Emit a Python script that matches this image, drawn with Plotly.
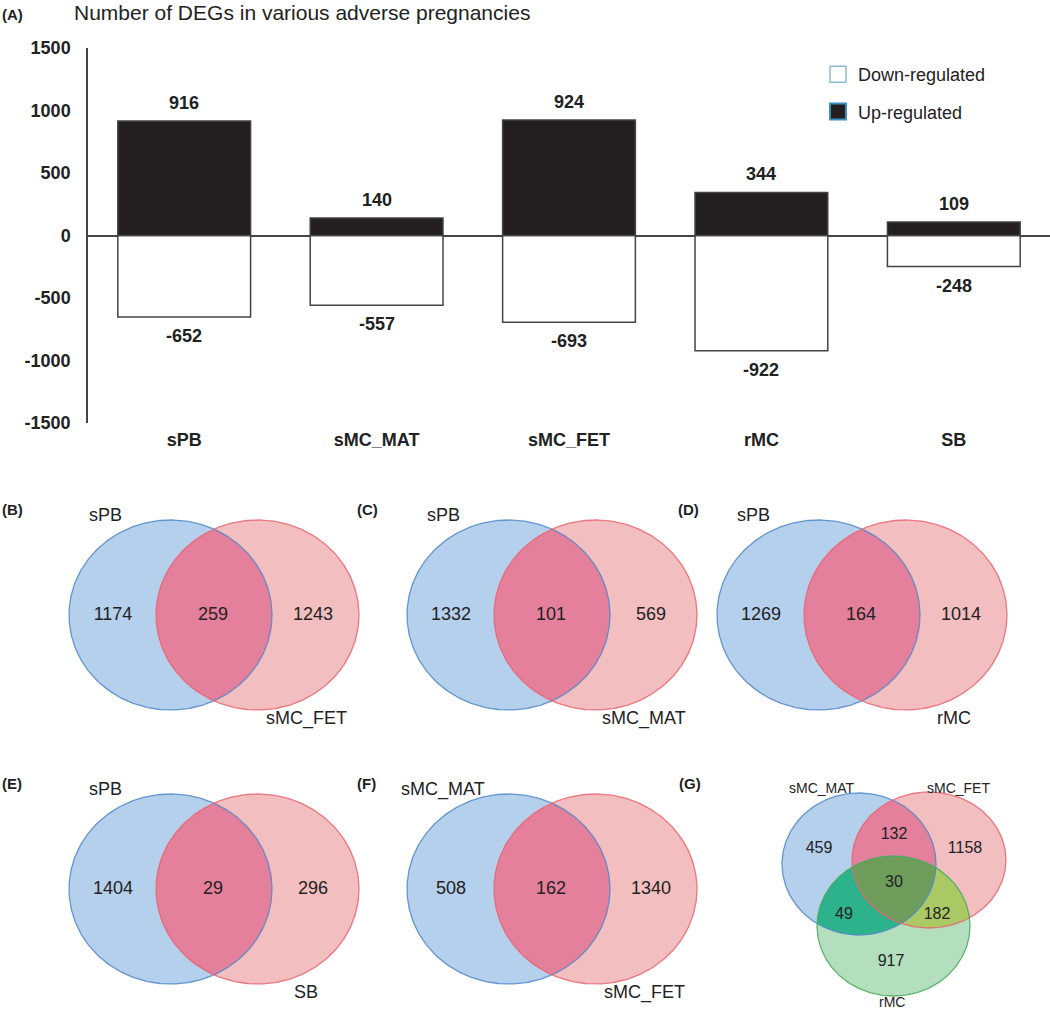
import numpy as np
import plotly.graph_objects as go

# ---- data ----
categories = ["sPB", "sMC_MAT", "sMC_FET", "rMC", "SB"]
up_regulated = [916, 140, 924, 344, 109]
down_regulated = [-652, -557, -693, -922, -248]
y_ticks = [-1500, -1000, -500, 0, 500, 1000, 1500]

venn_panels = ["(B)", "(C)", "(D)", "(E)", "(F)"]
venn_left_sets = ["sPB", "sPB", "sPB", "sPB", "sMC_MAT"]
venn_right_sets = ["sMC_FET", "sMC_MAT", "rMC", "SB", "sMC_FET"]
venn_left_only = [1174, 1332, 1269, 1404, 508]
venn_shared = [259, 101, 164, 29, 162]
venn_right_only = [1243, 569, 1014, 296, 1340]

g_panel = "(G)"
g_sets = ["sMC_MAT", "sMC_FET", "rMC"]
g_only = [459, 1158, 917]          # MAT only, FET only, rMC only
g_pairs = [132, 49, 182]           # MAT&FET, MAT&rMC, FET&rMC
g_all = 30

# ---- layout constants (pixels) ----
W, H = 1050, 1011
FONT = "Arial, Liberation Sans, sans-serif"
TXT = "#222222"
BLUE_FILL, BLUE_LINE = "#b4d0ec", "rgba(80,135,200,0.85)"
PINK_FILL, PINK_LINE = "#f2bebf", "rgba(232,100,112,0.85)"
GREEN_FILL, GREEN_LINE = "#b4dfbe", "rgba(70,170,90,0.85)"
BP_FILL, BG_FILL, PG_FILL, ALL_FILL = "#e47f9c", "#2db38c", "#aac864", "#6e9c5a"

panel_offsets = [(0, 0), (338, 0), (648, 0), (0, 274), (338, 274)]
panel_label_x = [0, 355, 676, 0, 355]


def px_x(x):
    return x / W


def px_y(y):
    return 1 - y / H


def ellipse(cx, cy, rx, ry, n=360):
    t = np.linspace(0, 2 * np.pi, n, endpoint=False)
    return list(zip(cx + rx * np.cos(t), cy + ry * np.sin(t)))


def area_sign(poly):
    s = 0.0
    for i in range(len(poly)):
        x1, y1 = poly[i]
        x2, y2 = poly[(i + 1) % len(poly)]
        s += x1 * y2 - x2 * y1
    return 1 if s > 0 else -1


def clip(subject, clipper):
    # Sutherland-Hodgman, clipper is convex
    sgn = area_sign(clipper)

    def inside(p, a, b):
        return sgn * ((b[0] - a[0]) * (p[1] - a[1]) - (b[1] - a[1]) * (p[0] - a[0])) >= 0

    def inter(p, q, a, b):
        x1, y1 = p
        x2, y2 = q
        x3, y3 = a
        x4, y4 = b
        d = (x1 - x2) * (y3 - y4) - (y1 - y2) * (x3 - x4)
        t = ((x1 - x3) * (y3 - y4) - (y1 - y3) * (x3 - x4)) / d
        return (x1 + t * (x2 - x1), y1 + t * (y2 - y1))

    out = subject
    for i in range(len(clipper)):
        a, b = clipper[i], clipper[(i + 1) % len(clipper)]
        inp, out = out, []
        if not inp:
            break
        prev = inp[-1]
        for cur in inp:
            if inside(cur, a, b):
                if not inside(prev, a, b):
                    out.append(inter(prev, cur, a, b))
                out.append(cur)
            elif inside(prev, a, b):
                out.append(inter(prev, cur, a, b))
            prev = cur
    return out


def poly_trace(poly, fill=None, line=None, width=1.3):
    xs = [p[0] for p in poly] + [poly[0][0]]
    ys = [p[1] for p in poly] + [poly[0][1]]
    if fill:
        return go.Scatter(x=xs, y=ys, mode="lines", fill="toself", fillcolor=fill,
                          line=dict(width=0), hoverinfo="skip", showlegend=False,
                          xaxis="x2", yaxis="y2")
    return go.Scatter(x=xs, y=ys, mode="lines", line=dict(color=line, width=width),
                      hoverinfo="skip", showlegend=False, xaxis="x2", yaxis="y2")


fig = go.Figure()

# ---- (A) bar chart ----
fig.add_trace(go.Bar(x=categories, y=down_regulated, name="Down-regulated", width=0.69,
                     marker=dict(color="white", line=dict(color="#444444", width=1.5)),
                     showlegend=False))
fig.add_trace(go.Bar(x=categories, y=up_regulated, name="Up-regulated", width=0.69,
                     marker=dict(color="#231f20", line=dict(color="#444444", width=1.5)),
                     showlegend=False))

# legend entries
fig.add_trace(go.Scatter(x=[None], y=[None], mode="markers", name="Down-regulated",
                         legendgroup="d",
                         marker=dict(symbol="square", size=20, color="white",
                                     line=dict(color="#8bbbd8", width=1.5))))
fig.add_trace(go.Scatter(x=[None], y=[None], mode="markers", name="Up-regulated",
                         legendgroup="u",
                         marker=dict(symbol="square", size=18, color="#231f20",
                                     line=dict(color="#3a8fc0", width=2))))

annotations = []
for c, u, d in zip(categories, up_regulated, down_regulated):
    annotations.append(dict(x=c, y=u, xref="x", yref="y", text=str(u), showarrow=False,
                            yshift=18, font=dict(family=FONT, size=18, color=TXT, weight="bold")))
    annotations.append(dict(x=c, y=d, xref="x", yref="y", text=str(d), showarrow=False,
                            yshift=-19, font=dict(family=FONT, size=18, color=TXT, weight="bold")))

annotations.append(dict(x=px_x(0), y=px_y(15), xref="paper", yref="paper", xanchor="left",
                        yanchor="middle", text="(A)", showarrow=False,
                        font=dict(family=FONT, size=15, color=TXT, weight="bold")))
annotations.append(dict(x=px_x(72), y=px_y(13), xref="paper", yref="paper", xanchor="left",
                        yanchor="middle", text="Number of DEGs in various adverse pregnancies",
                        showarrow=False, font=dict(family=FONT, size=21, color=TXT)))

# ---- two-set Venn panels ----
for i in range(len(venn_panels)):
    ox, oy = panel_offsets[i]
    cy = 615 + oy
    blue = ellipse(170.5 + ox, cy, 101.5, 95)
    pink = ellipse(257.5 + ox, cy, 101.5, 95)
    lens = clip(blue, pink)
    fig.add_trace(poly_trace(blue, fill=BLUE_FILL))
    fig.add_trace(poly_trace(pink, fill=PINK_FILL))
    fig.add_trace(poly_trace(lens, fill=BP_FILL))
    fig.add_trace(poly_trace(blue, line=BLUE_LINE))
    fig.add_trace(poly_trace(pink, line=PINK_LINE))
    fig.add_trace(go.Scatter(
        x=[113 + ox, 213 + ox, 313 + ox], y=[cy, cy, cy], mode="text",
        text=[str(venn_left_only[i]), str(venn_shared[i]), str(venn_right_only[i])],
        textfont=dict(family=FONT, size=18, color=TXT), hoverinfo="skip",
        showlegend=False, xaxis="x2", yaxis="y2"))
    annotations.append(dict(x=105 + ox, y=cy - 100, xref="x2", yref="y2", text=venn_left_sets[i],
                            showarrow=False, font=dict(family=FONT, size=18, color=TXT)))
    annotations.append(dict(x=306 + ox, y=cy + 103, xref="x2", yref="y2", text=venn_right_sets[i],
                            showarrow=False, font=dict(family=FONT, size=18, color=TXT)))
    annotations.append(dict(x=panel_label_x[i], y=cy - 106, xref="x2", yref="y2", xanchor="left",
                            text=venn_panels[i], showarrow=False,
                            font=dict(family=FONT, size=15, color=TXT, weight="bold")))

# ---- (G) three-set Venn ----
gb = ellipse(859, 864, 77, 71)
gp = ellipse(929, 860, 77, 68)
gg = ellipse(893.5, 926, 76.5, 70)
for poly, col in [(gb, BLUE_FILL), (gp, PINK_FILL), (gg, GREEN_FILL),
                  (clip(gb, gp), BP_FILL), (clip(gb, gg), BG_FILL), (clip(gp, gg), PG_FILL),
                  (clip(clip(gb, gp), gg), ALL_FILL)]:
    fig.add_trace(poly_trace(poly, fill=col))
for poly, col in [(gb, BLUE_LINE), (gp, PINK_LINE), (gg, GREEN_LINE)]:
    fig.add_trace(poly_trace(poly, line=col))

fig.add_trace(go.Scatter(
    x=[819, 965, 891, 894, 844, 937, 894], y=[849, 849, 962, 835, 915, 915, 883], mode="text",
    text=[str(v) for v in g_only + g_pairs + [g_all]],
    textfont=dict(family=FONT, size=16, color=TXT), hoverinfo="skip",
    showlegend=False, xaxis="x2", yaxis="y2"))
for name, x, y in zip(g_sets, [822, 958, 892], [788, 788, 1002]):
    annotations.append(dict(x=x, y=y, xref="x2", yref="y2", text=name, showarrow=False,
                            font=dict(family=FONT, size=14, color=TXT)))
annotations.append(dict(x=677, y=783, xref="x2", yref="y2", xanchor="left", text=g_panel,
                        showarrow=False, font=dict(family=FONT, size=15, color=TXT, weight="bold")))

fig.update_layout(
    width=W, height=H,
    margin=dict(l=0, r=0, t=0, b=0, autoexpand=False),
    plot_bgcolor="rgba(0,0,0,0)", paper_bgcolor="white",
    barmode="overlay",
    annotations=annotations,
    legend=dict(x=px_x(818), y=px_y(56), xanchor="left", yanchor="top",
                bgcolor="rgba(0,0,0,0)", tracegroupgap=11,
                font=dict(family=FONT, size=18, color=TXT)),
    xaxis=dict(domain=[px_x(88), 1], range=[-0.5, 4.5], showgrid=False, showline=False,
               zeroline=False, ticks="", ticklabelstandoff=4,
               tickfont=dict(family=FONT, size=18, color=TXT, weight="bold")),
    yaxis=dict(domain=[px_y(423), px_y(48)], range=[-1500, 1500], tickvals=y_ticks,
               ticktext=[str(v) for v in y_ticks],
               showgrid=False, showline=True, linecolor="#444444", linewidth=1.5,
               zeroline=True, zerolinecolor="#444444", zerolinewidth=1.5,
               ticks="", ticklabelstandoff=12,
               tickfont=dict(family=FONT, size=18, color=TXT, weight="bold")),
    xaxis2=dict(domain=[0, 1], range=[0, W], visible=False, anchor="y2"),
    yaxis2=dict(domain=[0, 1], range=[H, 0], visible=False, anchor="x2"),
)

# the page's default body margin would shift the figure by 8px
fig.write_html("out.html", config={"displayModeBar": False},
               post_script="document.body.style.margin = '0';")
